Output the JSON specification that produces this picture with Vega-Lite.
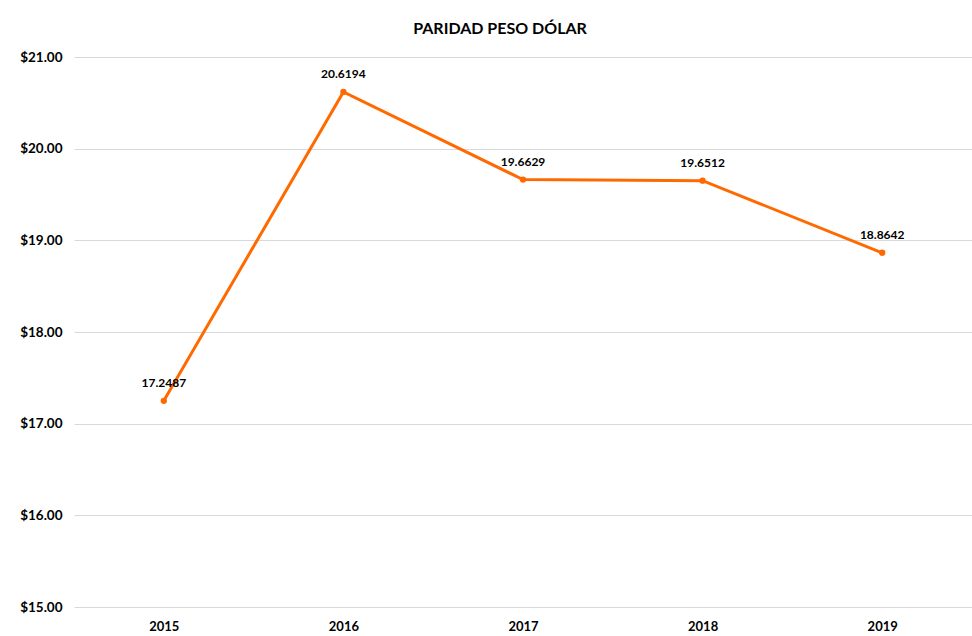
{
  "$schema": "https://vega.github.io/schema/vega-lite/v6.json",
  "autosize": {"type": "none"},
  "width": 898,
  "height": 550,
  "padding": {"left": 74, "top": 57, "right": 0, "bottom": 29},
  "background": "white",
  "title": {"text": "PARIDAD PESO DÓLAR", "font": "Lato", "fontSize": 16, "fontWeight": "bold", "color": "#000000", "anchor": "middle", "dx": -23, "offset": 13},
  "config": {"view": {"stroke": null}, "font": "Lato"},
  "data": {"values": [
    {"year": "2015", "rate": 17.2487},
    {"year": "2016", "rate": 20.6194},
    {"year": "2017", "rate": 19.6629},
    {"year": "2018", "rate": 19.6512},
    {"year": "2019", "rate": 18.8642}
  ]},
  "encoding": {
    "x": {"field": "year", "type": "ordinal", "scale": {"type": "point", "padding": 0.5},
      "axis": {"title": null, "labelAngle": 0, "domain": false, "ticks": false, "labelFont": "Lato", "labelFontSize": 13, "labelFontWeight": "bold", "labelColor": "#000000", "labelPadding": 13, "grid": false}},
    "y": {"field": "rate", "type": "quantitative", "scale": {"domain": [15, 21], "nice": false, "zero": false},
      "axis": {"title": null, "format": "$.2f", "values": [15,16,17,18,19,20,21], "labelOverlap": false, "domain": false, "ticks": false, "labelFont": "Lato", "labelFontSize": 13.5, "labelFontWeight": "bold", "labelColor": "#000000", "labelPadding": 12, "gridColor": "#d9d9d9", "gridWidth": 1}}
  },
  "layer": [
    {"mark": {"type": "line", "color": "#FF6A00", "strokeWidth": 3}},
    {"mark": {"type": "point", "filled": true, "color": "#FF6A00", "size": 40, "opacity": 1}},
    {"mark": {"type": "text", "dy": -18, "font": "Lato", "fontSize": 12, "fontWeight": "bold", "color": "#000000"},
      "encoding": {"text": {"field": "rate", "type": "quantitative", "format": ".4f"}}}
  ]
}
